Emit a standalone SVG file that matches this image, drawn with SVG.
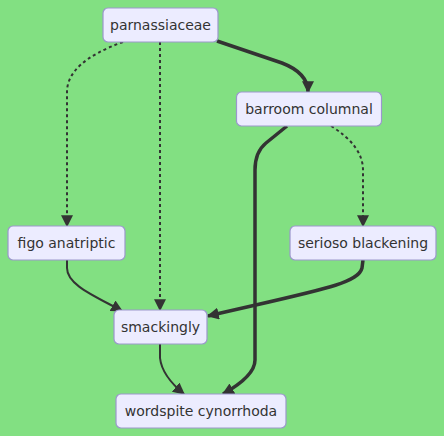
<svg xmlns="http://www.w3.org/2000/svg" width="444" height="436" viewBox="0 0 444 436">
<defs>
<style>
.node rect{fill:#ECECFF;stroke:#9B97CC;stroke-width:1.2}
.node text{font-family:"DejaVu Sans",Verdana,sans-serif;font-size:14px;fill:#333;text-anchor:middle;dominant-baseline:central}
.e{fill:none;stroke:#333}
.n{stroke-width:2}
.t{stroke-width:3.5}
.d{stroke-width:2;stroke-dasharray:3 3}
</style>
<marker id="ah" viewBox="0 0 10 10" refX="9" refY="5" markerWidth="12" markerHeight="12" markerUnits="userSpaceOnUse" orient="auto">
<path d="M0,0 L10,5 L0,10 z" fill="#333"/>
</marker>
</defs>
<rect x="0" y="0" width="444" height="436" fill="#82E082"/>
<g id="connectors">
<path class="e t" d="M217,41 L282,63 Q308,73 308,92" marker-end="url(#ah)"/>
<path class="e d" d="M123,42 Q67,62 67,92 L67,226" marker-end="url(#ah)"/>
<path class="e d" d="M160,42 L160,310" marker-end="url(#ah)"/>
<path class="e d" d="M331,126 Q363,146 363,170 L363,226" marker-end="url(#ah)"/>
<path class="e t" d="M287,126 L266,143 Q255,152 255,170 L255,360 Q255,376 223,394" marker-end="url(#ah)"/>
<path class="e n" d="M67,260 L67,268 C67,285 95,296 122,311" marker-end="url(#ah)"/>
<path class="e t" d="M363,260 L362,268 C358,284 320,290 208,316" marker-end="url(#ah)"/>
<path class="e n" d="M160,344 L160,358 Q162,376 184,394" marker-end="url(#ah)"/>
</g>
<g id="parnassiaceae" class="node"><rect x="103" y="8" width="115" height="34" rx="5"/><text x="160.5" y="25">parnassiaceae</text></g>
<g id="barroom-columnal" class="node"><rect x="236.5" y="92" width="145" height="34" rx="5"/><text x="309" y="109">barroom columnal</text></g>
<g id="figo-anatriptic" class="node"><rect x="8" y="226" width="117" height="34" rx="5"/><text x="66.5" y="243">figo anatriptic</text></g>
<g id="serioso-blackening" class="node"><rect x="290" y="226" width="146" height="34" rx="5"/><text x="363" y="243">serioso blackening</text></g>
<g id="smackingly" class="node"><rect x="114" y="310" width="93" height="34" rx="5"/><text x="160.5" y="327">smackingly</text></g>
<g id="wordspite-cynorrhoda" class="node"><rect x="116" y="394" width="170" height="34" rx="5"/><text x="201" y="411">wordspite cynorrhoda</text></g>
</svg>
